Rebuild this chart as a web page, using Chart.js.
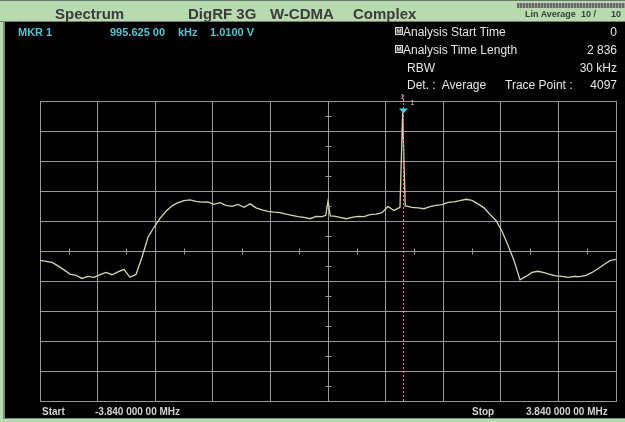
<!DOCTYPE html>
<html>
<head>
<meta charset="utf-8">
<title>Spectrum</title>
<script src="https://cdn.jsdelivr.net/npm/chart.js@4.4.1/dist/chart.umd.min.js"></script>
<style>
  html, body { margin: 0; padding: 0; background: #000; }
  #screen { position: relative; width: 625px; height: 422px; overflow: hidden; background: #000;
            font-family: "Liberation Sans", Arial, sans-serif; }
  #screen div { position: absolute; white-space: nowrap; line-height: 1; }
  canvas { position: absolute; left: 0; top: 0; }
  .bar { background: #b7dbae; }
  .hdr { font-size: 15px; font-weight: bold; color: #3c3c3c; }
  .mkr { font-size: 11px; font-weight: bold; color: #4cc6d6; }
  .info { font-size: 12px; color: #e6e6e6; }
  .foot { font-size: 10px; font-weight: bold; color: #d2d2d2; }
  .icon { width: 6px; height: 6px; border: 1px solid #e0e0e0; background: #444;
          font-size: 6px; color: #fff; text-align: center; line-height: 6px !important; }
</style>
</head>
<body>
<div id="screen">
  <div class="bar" style="left:0;top:0;width:625px;height:22px;border-top:1px solid #6b7a69;box-sizing:border-box;"></div>
  <div style="left:0;top:21px;width:625px;height:1px;background:#6f7f6c;"></div>
  <div class="bar" style="left:0;top:22px;width:3px;height:400px;"></div>
  <div style="left:3px;top:22px;width:2px;height:397px;background:#7d8c7a;"></div>
  <div style="left:3px;top:418px;width:622px;height:1px;background:#7d8c7a;"></div>
  <div class="bar" style="left:0;top:419px;width:625px;height:3px;"></div>

  <div style="left:517px;top:3px;width:108px;height:5px;background:repeating-linear-gradient(90deg,#6a6a6a 0 2px,#9a9a9a 2px 3px);"></div>

  <canvas id="spectrum" width="625" height="422"></canvas>

  <div class="hdr" style="left:55px;top:6px;">Spectrum</div>
  <div class="hdr" style="left:188px;top:6px;">DigRF 3G</div>
  <div class="hdr" style="left:270px;top:6px;">W-CDMA</div>
  <div class="hdr" style="left:353px;top:6px;">Complex</div>
  <div style="left:525px;top:10px;font-size:9px;font-weight:bold;color:#3c3c3c;">Lin Average</div>
  <div style="left:581px;top:10px;font-size:9px;font-weight:bold;color:#3c3c3c;">10 /</div>
  <div style="left:611px;top:10px;font-size:9px;font-weight:bold;color:#3c3c3c;">10</div>

  <div class="mkr" style="left:18px;top:27px;">MKR 1</div>
  <div class="mkr" style="left:110px;top:27px;">995.625 00</div>
  <div class="mkr" style="left:178px;top:27px;">kHz</div>
  <div class="mkr" style="left:210px;top:27px;">1.0100 V</div>

  <div class="icon" style="left:395px;top:27px;">M</div>
  <div class="info" style="left:403px;top:26px;">Analysis Start Time</div>
  <div class="info" style="right:8px;top:26px;">0</div>
  <div class="icon" style="left:395px;top:45px;">M</div>
  <div class="info" style="left:403px;top:44px;">Analysis Time Length</div>
  <div class="info" style="right:8px;top:44px;">2 836</div>
  <div class="info" style="left:407px;top:62px;">RBW</div>
  <div class="info" style="right:8px;top:62px;">30 kHz</div>
  <div class="info" style="left:407px;top:79px;">Det. :&nbsp; Average</div>
  <div class="info" style="left:505px;top:79px;">Trace Point :</div>
  <div class="info" style="right:8px;top:79px;">4097</div>

  <div class="foot" style="left:42px;top:407px;">Start</div>
  <div class="foot" style="left:95px;top:407px;">-3.840 000 00 MHz</div>
  <div class="foot" style="left:472px;top:407px;">Stop</div>
  <div class="foot" style="left:526px;top:407px;">3.840 000 00 MHz</div>
</div>

<script>
// frequency offsets (MHz) and averaged level (V)
const freqs = [
  -3.84, -3.76, -3.68, -3.60, -3.52, -3.44, -3.36, -3.28, -3.20, -3.12,
  -3.04, -2.96, -2.88, -2.80, -2.72, -2.64, -2.56, -2.48, -2.40, -2.32,
  -2.24, -2.16, -2.08, -2.00, -1.92, -1.84, -1.76, -1.68, -1.60, -1.52,
  -1.44, -1.36, -1.28, -1.20, -1.12, -1.04, -0.96, -0.88, -0.80, -0.72,
  -0.64, -0.56, -0.48, -0.40, -0.32, -0.24, -0.16, -0.08, -0.03, 0.00,
  0.03, 0.08, 0.16, 0.24, 0.32, 0.40, 0.48, 0.56, 0.64, 0.72,
  0.80, 0.88, 0.96, 0.975, 0.995625, 1.015, 1.03, 1.04, 1.12, 1.20,
  1.28, 1.36, 1.44, 1.52, 1.60, 1.68, 1.76, 1.84, 1.92, 2.00,
  2.08, 2.16, 2.24, 2.32, 2.40, 2.48, 2.56, 2.64, 2.72, 2.80,
  2.88, 2.96, 3.04, 3.12, 3.20, 3.28, 3.36, 3.44, 3.52, 3.60,
  3.68, 3.76, 3.84
];
const volts = [
  0.492, 0.489, 0.485, 0.473, 0.459, 0.444, 0.440, 0.429, 0.436, 0.433,
  0.442, 0.450, 0.442, 0.452, 0.461, 0.433, 0.443, 0.503, 0.573, 0.608,
  0.639, 0.664, 0.683, 0.694, 0.701, 0.704, 0.699, 0.696, 0.697, 0.688,
  0.694, 0.685, 0.681, 0.688, 0.678, 0.690, 0.676, 0.669, 0.664, 0.661,
  0.659, 0.654, 0.650, 0.645, 0.643, 0.638, 0.646, 0.645, 0.650, 0.699,
  0.648, 0.647, 0.643, 0.638, 0.643, 0.646, 0.645, 0.652, 0.654, 0.659,
  0.681, 0.667, 0.678, 0.820, 1.010, 0.820, 0.682, 0.683, 0.678, 0.676,
  0.673, 0.680, 0.685, 0.687, 0.695, 0.697, 0.701, 0.706, 0.702, 0.690,
  0.676, 0.653, 0.632, 0.594, 0.545, 0.492, 0.424, 0.436, 0.450, 0.454,
  0.449, 0.443, 0.438, 0.436, 0.433, 0.436, 0.435, 0.440, 0.450, 0.463,
  0.478, 0.491, 0.496
];
const xTicks = [-3.84, -3.072, -2.304, -1.536, -0.768, 0, 0.768, 1.536, 2.304, 3.072, 3.84];
const yTicks = [0, 0.105, 0.21, 0.315, 0.42, 0.525, 0.63, 0.735, 0.84, 0.945, 1.05];
const markerFreq = 0.995625;
const markerVolt = 1.01;

const gridColor = '#9a9a9a';

/* center cross minor ticks + marker 1 */
const overlay = {
  id: 'overlay',
  afterDatasetsDraw(chart) {
    const { ctx, chartArea: a, scales: { x, y } } = chart;
    ctx.save();
    ctx.strokeStyle = gridColor;
    ctx.lineWidth = 1;
    const cx = Math.round(x.getPixelForValue(0)) + 0.5;
    const cy = Math.round(y.getPixelForValue(0.525)) + 0.5;
    ctx.beginPath();
    for (let i = 0; i < xTicks.length - 1; i++) {
      const px = Math.round(x.getPixelForValue((xTicks[i] + xTicks[i + 1]) / 2)) + 0.5;
      ctx.moveTo(px, cy - 3); ctx.lineTo(px, cy + 3);
    }
    for (let i = 0; i < yTicks.length - 1; i++) {
      const py = Math.round(y.getPixelForValue((yTicks[i] + yTicks[i + 1]) / 2)) + 0.5;
      ctx.moveTo(cx - 3, py); ctx.lineTo(cx + 3, py);
    }
    ctx.stroke();

    // marker line
    const mx = Math.round(x.getPixelForValue(markerFreq)) + 0.5;
    const my = y.getPixelForValue(markerVolt);
    ctx.strokeStyle = '#3cc4d4';
    ctx.setLineDash([2, 2]);
    ctx.beginPath();
    ctx.moveTo(mx, a.top - 6);
    ctx.lineTo(mx, a.bottom);
    ctx.stroke();
    ctx.setLineDash([]);

    ctx.fillStyle = '#4cd0e0';
    ctx.beginPath();
    ctx.moveTo(mx - 4.5, my - 4);
    ctx.lineTo(mx + 4.5, my - 4);
    ctx.lineTo(mx, my + 1);
    ctx.closePath();
    ctx.fill();

    ctx.fillStyle = '#cfcfcf';
    ctx.font = '7px "Liberation Sans", Arial, sans-serif';
    ctx.textAlign = 'center';
    ctx.fillText('1', mx - 1, a.top - 2);
    ctx.fillText('1', mx + 9, my - 7);
    ctx.restore();
  }
};

const ctx = document.getElementById('spectrum').getContext('2d');
const chart = new Chart(ctx, {
  type: 'line',
  data: {
    datasets: [{
      label: 'Trace',
      data: freqs.map((f, i) => ({ x: f, y: volts[i] })),
      borderColor: '#d8d6a6',
      borderWidth: 1.3,
      pointRadius: 0,
      tension: 0,
      fill: false
    }]
  },
  options: {
    responsive: false,
    animation: false,
    events: [],
    layout: { padding: { left: 40, top: 101, right: 9, bottom: 21 } },
    plugins: { legend: { display: false }, tooltip: { enabled: false } },
    scales: {
      x: {
        type: 'linear',
        min: -3.84,
        max: 3.84,
        afterBuildTicks: s => { s.ticks = xTicks.map(v => ({ value: v })); },
        afterFit: s => { s.height = 0; },
        ticks: { display: false },
        grid: { color: gridColor, lineWidth: 1, drawTicks: false },
        border: { color: gridColor }
      },
      y: {
        min: 0,
        max: 1.05,
        afterBuildTicks: s => { s.ticks = yTicks.map(v => ({ value: v })); },
        afterFit: s => { s.width = 0; },
        ticks: { display: false },
        grid: { color: gridColor, lineWidth: 1, drawTicks: false },
        border: { color: gridColor }
      }
    }
  },
  plugins: [overlay]
});
</script>
</body>
</html>
